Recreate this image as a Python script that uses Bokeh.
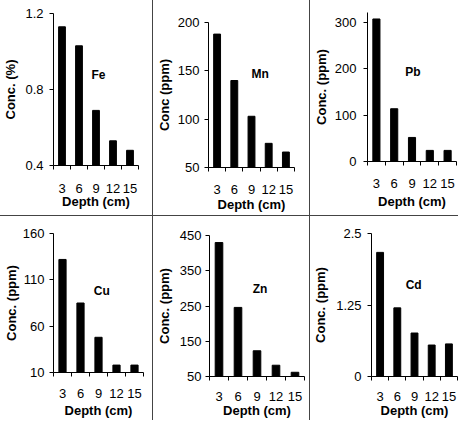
from bokeh.plotting import figure
from bokeh.models import Range1d, FixedTicker, Div
from bokeh.layouts import row, column
from bokeh.embed import file_html
from bokeh.resources import INLINE
from bokeh.core.properties import value

# ---------------- data ----------------
depths = ["3", "6", "9", "12", "15"]

fe = [1.13, 1.03, 0.69, 0.53, 0.48]
mn = [188, 140, 103, 75, 66]
pb = [308, 114, 52, 24, 24]
cu = [132, 85, 48, 18, 18]
zn = [430, 246, 123, 82, 62]
cd = [2.17, 1.20, 0.76, 0.55, 0.57]

elements = ["Fe", "Mn", "Pb", "Cu", "Zn", "Cd"]
y_titles = ["Conc. (%)", "Conc (ppm)", "Conc. (ppm)", "Conc. (ppm)", "Conc. (ppm)", "Conc. (ppm)"]
x_title = "Depth (cm)"

fe_ticks = [0.4, 0.8, 1.2]
fe_tick_labels = ["0.4", "0.8", "1.2"]
mn_ticks = [50, 100, 150, 200]
mn_tick_labels = ["50", "100", "150", "200"]
pb_ticks = [0, 100, 200, 300]
pb_tick_labels = ["0", "100", "200", "300"]
cu_ticks = [10, 60, 110, 160]
cu_tick_labels = ["10", "60", "110", "160"]
zn_ticks = [50, 150, 250, 350, 450]
zn_tick_labels = ["50", "150", "250", "350", "450"]
cd_ticks = [0, 1.25, 2.5]
cd_tick_labels = ["0", "1.25", "2.5"]

y_ranges = [(0.4, 1.2), (50, 200), (0, 322), (10, 160), (50, 450), (0, 2.5)]

# ---------------- layout / style ----------------
FONT = "Liberation Sans"
TICK_SIZE = "13px"
TITLE_SIZE = "13px"
ELEM_SIZE = "12px"

ROW1_H = 215
ROW2_H = 204
COL_W = [152, 156, 148]

# (left, right, top, bottom, ylab_standoff, ytitle_standoff, xlab_standoff, xtitle_standoff, label_x, label_y)
panel_layout = [
    (49, 14, 13, 50, 6, 4, 14, -2, 3.14, 0.874),
    (51, 15, 22, 48, 5, 3, 13, 0, 3.50, 147),
    (53, 2, 12, 54, 7, 3, 13, 3, 3.05, 194),
    (48, 9, 17, 48, 5, 1, 12, 2, 3.18, 98),
    (55, 5, 19, 44, 4, 5, 11, -1, 3.16, 297),
    (54, 1, 17, 44, 6, 5, 11, -1, 2.95, 1.6),
]


def make_panel(vals, yr, ticks, tick_labels, ytitle, elem, w, h, lay):
    (bl, br, bt, bb, yls, yts, xls, xts, lx, ly) = lay
    p = figure(width=w, height=h, output_backend="svg", toolbar_location=None,
               x_range=Range1d(0.5, len(depths) + 0.5), y_range=Range1d(yr[0], yr[1]),
               min_border_left=bl, min_border_right=br, min_border_top=bt, min_border_bottom=bb)
    p.outline_line_color = None
    p.background_fill_color = "white"
    p.border_fill_color = "white"
    p.xgrid.visible = False
    p.ygrid.visible = False

    xs = [i + 1 for i in range(len(depths))]
    p.vbar(x=xs, top=vals, bottom=yr[0], width=0.4, fill_color="black", line_color="black")

    # x axis
    xa = p.xaxis[0]
    xa.ticker = FixedTicker(ticks=xs, minor_ticks=[i + 0.5 for i in range(len(depths) + 1)])
    xa.major_label_overrides = {x: d for x, d in zip(xs, depths)}
    xa.major_tick_in = 0
    xa.major_tick_out = 0
    xa.minor_tick_in = 0
    xa.minor_tick_out = 4
    xa.minor_tick_line_color = "black"
    xa.axis_line_color = "black"
    xa.major_label_standoff = xls
    xa.major_label_text_font = FONT
    xa.major_label_text_font_size = TICK_SIZE
    xa.major_label_text_color = "black"
    xa.axis_label = x_title
    xa.axis_label_standoff = xts
    xa.axis_label_text_font = FONT
    xa.axis_label_text_font_style = "bold"
    xa.axis_label_text_font_size = TITLE_SIZE
    xa.axis_label_text_color = "black"

    # y axis
    ya = p.yaxis[0]
    ya.ticker = FixedTicker(ticks=ticks)
    ya.major_label_overrides = {t: l for t, l in zip(ticks, tick_labels)}
    ya.major_tick_in = 0
    ya.major_tick_out = 4
    ya.major_tick_line_color = "black"
    ya.minor_tick_line_color = None
    ya.axis_line_color = "black"
    ya.major_label_standoff = yls
    ya.major_label_text_font = FONT
    ya.major_label_text_font_size = TICK_SIZE
    ya.major_label_text_color = "black"
    ya.axis_label = ytitle
    ya.axis_label_standoff = yts
    ya.axis_label_text_font = FONT
    ya.axis_label_text_font_style = "bold"
    ya.axis_label_text_font_size = TITLE_SIZE
    ya.axis_label_text_color = "black"

    p.text(x=[lx], y=[ly], text=[elem], text_font=value(FONT), text_font_style="bold",
           text_font_size=ELEM_SIZE, text_align="center", text_baseline="middle", text_color="black")
    return p


series = [fe, mn, pb, cu, zn, cd]
tick_sets = [fe_ticks, mn_ticks, pb_ticks, cu_ticks, zn_ticks, cd_ticks]
label_sets = [fe_tick_labels, mn_tick_labels, pb_tick_labels, cu_tick_labels, zn_tick_labels, cd_tick_labels]

panels = []
for i in range(6):
    w = COL_W[i % 3]
    h = ROW1_H if i < 3 else ROW2_H
    panels.append(make_panel(series[i], y_ranges[i], tick_sets[i], label_sets[i], y_titles[i],
                             elements[i], w, h, panel_layout[i]))

SEP = "#444444"


def vsep(h):
    return Div(text="", width=1, height=h, margin=0, styles={"background-color": SEP})


def box(p):
    # wrap each plot on its own so that frames are not aligned across panels
    return column(p, spacing=0)


top = row(box(panels[0]), vsep(ROW1_H), box(panels[1]), vsep(ROW1_H), box(panels[2]), spacing=0)
hline = Div(text="", width=sum(COL_W) + 2, height=1, margin=0, styles={"background-color": SEP})
bottom = row(box(panels[3]), vsep(ROW2_H), box(panels[4]), vsep(ROW2_H), box(panels[5]), spacing=0)
layout = column(top, hline, bottom, spacing=0)

open("out.html", "w").write(file_html(layout, INLINE))
